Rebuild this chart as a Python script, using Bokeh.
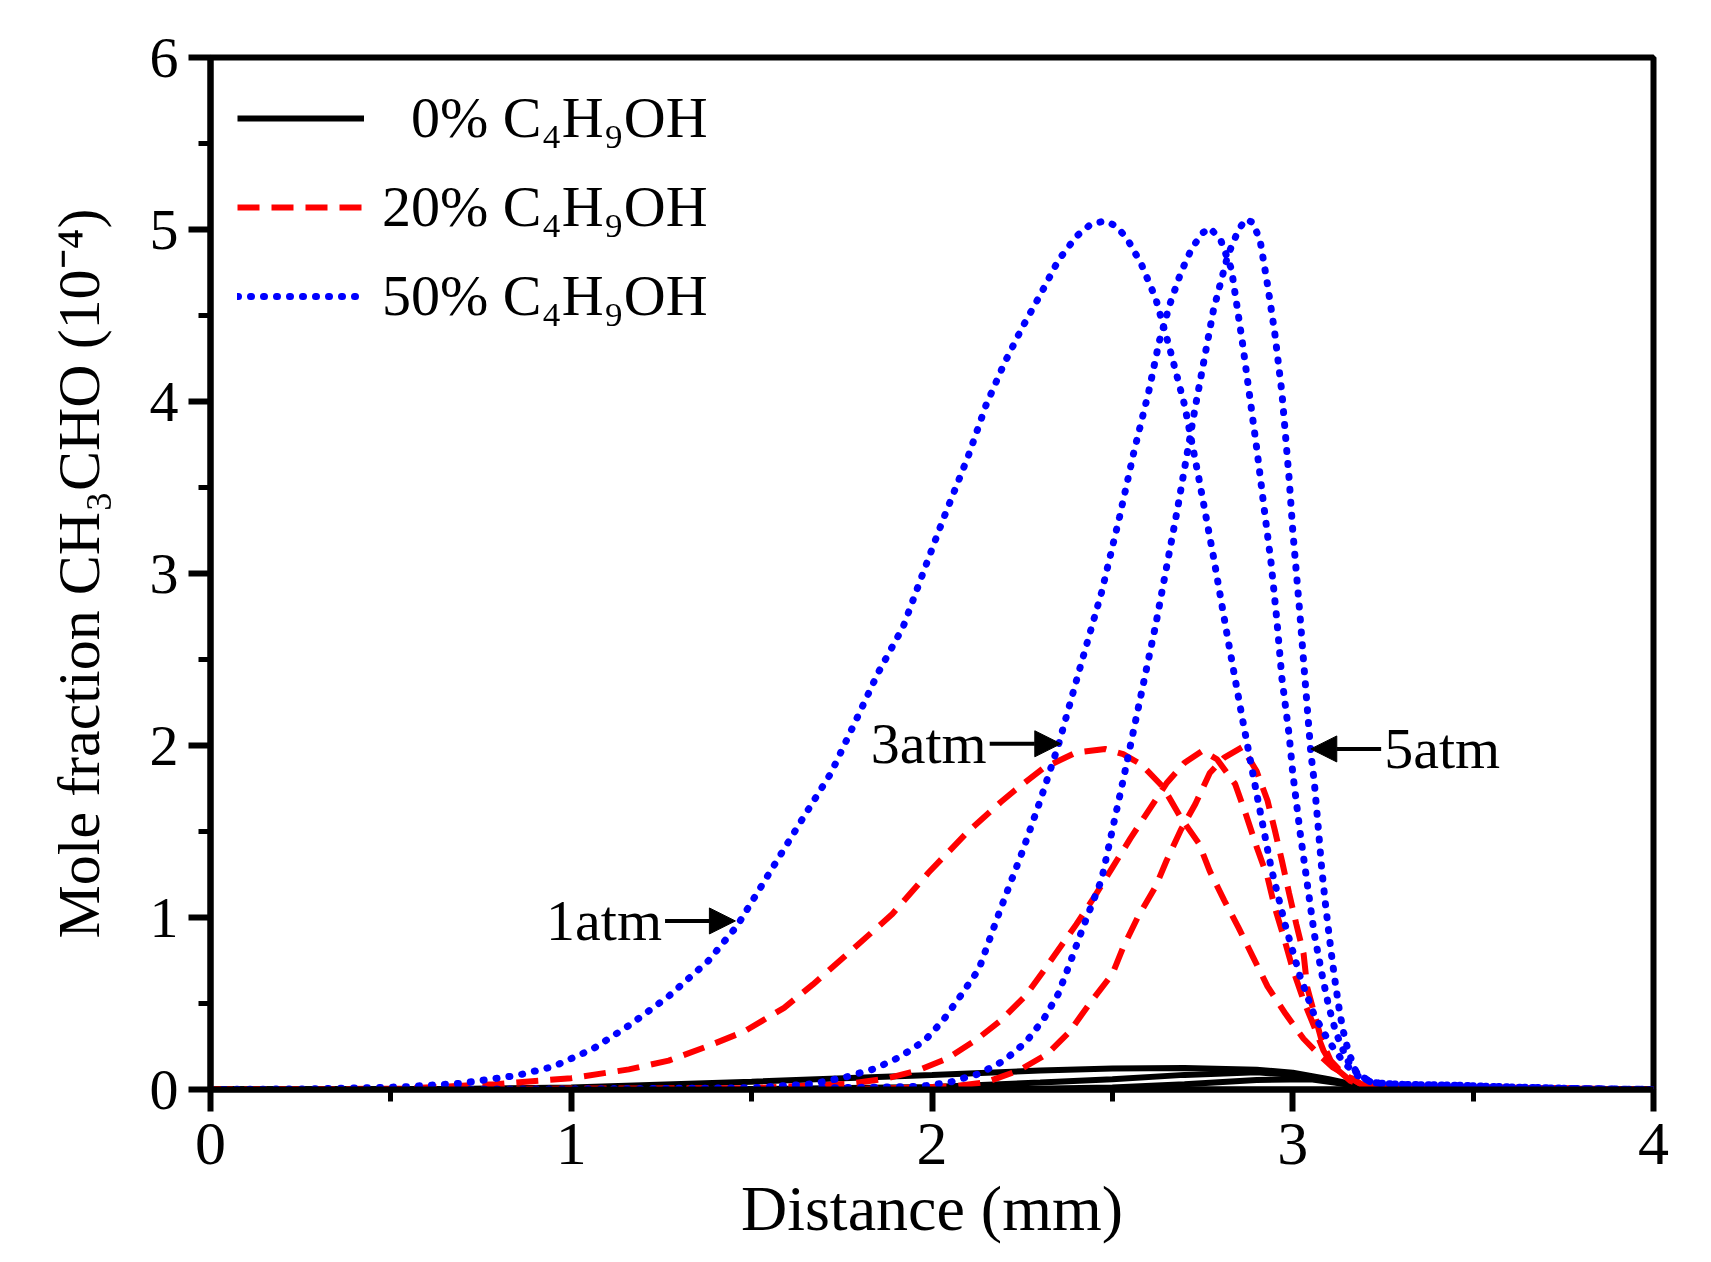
from bokeh.plotting import figure
from bokeh.models import (Range1d, Legend, LegendItem, Arrow, NormalHead, Label,
                          SingleIntervalTicker)
from bokeh.embed import file_html
from bokeh.resources import INLINE

FONT = "Liberation Serif"

# ---------------- data ----------------
# 0% C4H9OH (black, solid)
k1_x = [0, 0.6, 1.0, 1.5, 2.0, 2.3, 2.5, 2.7, 2.9, 3.0, 3.1, 3.2, 3.3, 4.0]
k1_y = [0, 0.002, 0.012, 0.045, 0.085, 0.11, 0.122, 0.125, 0.115, 0.098, 0.06, 0.015, 0.003, 0]
k3_x = [0, 1.5, 2.0, 2.3, 2.5, 2.7, 2.9, 3.0, 3.1, 3.2, 3.3, 4.0]
k3_y = [0, 0.002, 0.015, 0.04, 0.06, 0.085, 0.1, 0.085, 0.05, 0.01, 0.002, 0]
k5_x = [0, 2.2, 2.5, 2.7, 2.9, 3.05, 3.15, 3.22, 4.0]
k5_y = [0, 0.002, 0.012, 0.03, 0.055, 0.06, 0.03, 0.005, 0]

# 20% C4H9OH (red, dashed)
r1_x = [0, 0.53, 0.79, 1.00, 1.16, 1.27, 1.38, 1.48, 1.59, 1.67, 1.78, 1.89, 1.99, 2.10,
        2.19, 2.23, 2.31, 2.40, 2.48, 2.53, 2.58, 2.64, 2.69, 2.74, 2.77, 2.81, 2.85, 2.89,
        2.93, 2.98, 3.03, 3.08, 3.11, 3.15, 3.19, 3.25, 3.40, 3.60, 3.80, 4.0]
r1_y = [0, 0.005, 0.031, 0.066, 0.117, 0.168, 0.253, 0.338, 0.475, 0.611, 0.815, 1.02, 1.26,
        1.50, 1.67, 1.74, 1.87, 1.96, 1.98, 1.95, 1.89, 1.76, 1.58, 1.43, 1.27, 1.10, 0.94,
        0.77, 0.60, 0.44, 0.295, 0.188, 0.13, 0.081, 0.03, 0.02, 0.015, 0.01, 0.005, 0]
r3_x = [0, 1.5, 1.77, 1.87, 1.96, 2.04, 2.12, 2.19, 2.26, 2.31, 2.40, 2.45, 2.50, 2.55, 2.60,
        2.65, 2.70, 2.75, 2.79, 2.84, 2.87, 2.90, 2.93, 2.95, 2.975, 3.00, 3.03, 3.06, 3.085,
        3.11, 3.16, 3.20, 3.40, 3.60, 3.80, 4.0]
r3_y = [0, 0.008, 0.033, 0.062, 0.11, 0.178, 0.285, 0.40, 0.547, 0.692, 0.96, 1.12, 1.29, 1.46,
        1.62, 1.78, 1.90, 1.97, 1.92, 1.777, 1.60, 1.41, 1.234, 1.06, 0.886, 0.70, 0.518, 0.362,
        0.227, 0.14, 0.05, 0.02, 0.015, 0.01, 0.005, 0]
r5_x = [0, 1.8, 2.06, 2.15, 2.24, 2.32, 2.38, 2.44, 2.50, 2.53, 2.57, 2.62, 2.65, 2.69, 2.73,
        2.77, 2.81, 2.86, 2.90, 2.93, 2.95, 2.97, 2.99, 3.01, 3.03, 3.04, 3.06, 3.08, 3.105,
        3.14, 3.20, 3.40, 3.60, 3.80, 4.0]
r5_y = [0, 0.003, 0.018, 0.043, 0.11, 0.207, 0.333, 0.508, 0.672, 0.827, 1.00, 1.18, 1.33,
        1.51, 1.66, 1.84, 1.93, 1.99, 1.85, 1.68, 1.51, 1.33, 1.14, 0.96, 0.79, 0.595, 0.44,
        0.285, 0.169, 0.09, 0.02, 0.015, 0.01, 0.005, 0]

# 50% C4H9OH (blue, dotted)
b1_x = [0, 0.3, 0.53, 0.69, 0.85, 0.95, 1.06, 1.16, 1.27, 1.38, 1.46, 1.57, 1.64, 1.72, 1.79,
        1.85, 1.92, 1.98, 2.03, 2.10, 2.15, 2.20, 2.25, 2.30, 2.35, 2.40, 2.44, 2.48, 2.51,
        2.54, 2.58, 2.62, 2.66, 2.70, 2.74, 2.78, 2.82, 2.86, 2.90, 2.94, 2.98, 3.02, 3.06,
        3.10, 3.14, 3.18, 3.22, 3.30, 3.45, 3.60, 3.80, 4.0]
b1_y = [0, 0.004, 0.015, 0.035, 0.082, 0.133, 0.236, 0.372, 0.542, 0.748, 0.952, 1.33, 1.57,
        1.84, 2.15, 2.42, 2.69, 3.03, 3.31, 3.68, 3.98, 4.22, 4.43, 4.62, 4.82, 4.96, 5.03,
        5.05, 5.02, 4.95, 4.80, 4.60, 4.30, 3.98, 3.55, 3.10, 2.62, 2.16, 1.72, 1.29, 0.95,
        0.66, 0.43, 0.28, 0.16, 0.08, 0.04, 0.03, 0.025, 0.015, 0.005, 0]
b3_x = [0, 1.0, 1.5, 1.67, 1.76, 1.84, 1.91, 1.98, 2.03, 2.08, 2.13, 2.19, 2.25, 2.30, 2.35,
        2.41, 2.47, 2.52, 2.56, 2.60, 2.63, 2.66, 2.69, 2.72, 2.75, 2.77, 2.80, 2.83, 2.86,
        2.88, 2.90, 2.92, 2.94, 2.955, 2.97, 2.99, 3.00, 3.02, 3.04, 3.06, 3.08, 3.10, 3.12,
        3.15, 3.17, 3.20, 3.25, 3.40, 3.60, 4.0]
b3_y = [0, 0.002, 0.01, 0.033, 0.072, 0.12, 0.188, 0.285, 0.40, 0.547, 0.70, 1.05, 1.38, 1.68,
        2.00, 2.45, 2.89, 3.33, 3.71, 4.05, 4.35, 4.57, 4.75, 4.89, 4.98, 5.01, 4.94, 4.77,
        4.35, 4.04, 3.73, 3.39, 3.06, 2.75, 2.39, 2.06, 1.84, 1.50, 1.20, 0.90, 0.68, 0.48,
        0.33, 0.175, 0.11, 0.06, 0.03, 0.02, 0.01, 0]
b5_x = [0, 1.5, 1.97, 2.05, 2.13, 2.20, 2.26, 2.31, 2.35, 2.38, 2.42, 2.47, 2.50, 2.53, 2.56,
        2.62, 2.68, 2.73, 2.78, 2.82, 2.85, 2.87, 2.89, 2.91, 2.93, 2.95, 2.97, 2.99, 3.00,
        3.02, 3.03, 3.05, 3.06, 3.07, 3.08, 3.09, 3.10, 3.11, 3.12, 3.13, 3.14, 3.15, 3.17,
        3.18, 3.22, 3.30, 3.45, 3.60, 3.80, 4.0]
b5_y = [0, 0.002, 0.018, 0.043, 0.091, 0.168, 0.275, 0.411, 0.556, 0.721, 0.95, 1.22, 1.51,
        1.80, 2.10, 2.70, 3.37, 3.97, 4.53, 4.85, 5.00, 5.06, 5.04, 4.93, 4.68, 4.40, 4.05,
        3.55, 3.25, 2.76, 2.49, 1.96, 1.78, 1.54, 1.29, 1.09, 0.91, 0.74, 0.59, 0.45, 0.34,
        0.255, 0.125, 0.09, 0.04, 0.03, 0.025, 0.015, 0.005, 0]

series_labels = ["\u20070% C\u2084H\u2089OH", "20% C\u2084H\u2089OH", "50% C\u2084H\u2089OH"]

# pressure annotations: text, arrow tail x, arrow head x, y
annot_text = ["1atm", "3atm", "5atm"]
annot_tail_x = [1.26, 2.16, 3.245]
annot_head_x = [1.455, 2.357, 3.05]
annot_y = [0.98, 2.01, 1.98]

x_label = "Distance (mm)"
y_label = "Mole fraction CH\u2083CHO (10\u207b\u2074)"

# ---------------- figure ----------------
p = figure(frame_width=1443, frame_height=1032, x_range=Range1d(0, 4), y_range=Range1d(0, 6),
           output_backend="svg", toolbar_location=None,
           min_border_left=210, min_border_right=38, min_border_top=57, min_border_bottom=150)
p.background_fill_color = "white"
p.border_fill_color = "white"
p.xgrid.visible = False
p.ygrid.visible = False
p.outline_line_color = "black"
p.outline_line_width = 6
p.outline_line_alpha = 1.0

p.xaxis.ticker = SingleIntervalTicker(interval=1, num_minor_ticks=2)
p.yaxis.ticker = SingleIntervalTicker(interval=1, num_minor_ticks=2)
p.xaxis.axis_label = x_label
p.yaxis.axis_label = y_label
for ax in (p.xaxis, p.yaxis):
    ax.axis_line_width = 6
    ax.axis_line_color = "black"
    ax.major_tick_line_width = 6
    ax.major_tick_out = 22
    ax.major_tick_in = 0
    ax.minor_tick_line_width = 5
    ax.minor_tick_out = 12
    ax.minor_tick_in = 0
    ax.major_label_text_font = FONT
    ax.major_label_text_color = "black"
    ax.axis_label_text_font = FONT
    ax.axis_label_text_font_style = "normal"
    ax.axis_label_text_color = "black"
p.xaxis.major_label_text_font_size = "62px"
p.yaxis.major_label_text_font_size = "58px"
p.xaxis.axis_label_text_font_size = "64px"
p.yaxis.axis_label_text_font_size = "60px"
p.xaxis.major_label_standoff = 12
p.xaxis.axis_label_standoff = 6
p.yaxis.major_label_standoff = 10
p.yaxis.axis_label_standoff = 35

# curves
kw_k = dict(line_color="black", line_width=6)
kw_r = dict(line_color="#FF0000", line_width=6, line_dash="22 12")
kw_b = dict(line_color="#0000FF", line_width=7, line_dash="1 12", line_cap="round")

k_r = p.line(k1_x, k1_y, **kw_k)
p.line(k3_x, k3_y, **kw_k)
p.line(k5_x, k5_y, **kw_k)
r_r = p.line(r1_x, r1_y, **kw_r)
p.line(r3_x, r3_y, **kw_r)
p.line(r5_x, r5_y, **kw_r)
b_r = p.line(b1_x, b1_y, **kw_b)
p.line(b3_x, b3_y, **kw_b)
p.line(b5_x, b5_y, **kw_b)

legend = Legend(items=[LegendItem(label=series_labels[0], renderers=[k_r]),
                       LegendItem(label=series_labels[1], renderers=[r_r]),
                       LegendItem(label=series_labels[2], renderers=[b_r])],
                location="top_left")
legend.label_text_font = FONT
legend.label_text_font_size = "58px"
legend.label_text_color = "black"
legend.glyph_width = 127
legend.glyph_height = 60
legend.label_height = 60
legend.label_standoff = 18
legend.spacing = 22
legend.padding = 27
legend.margin = 0
legend.border_line_alpha = 0
legend.background_fill_alpha = 0
p.add_layout(legend)

for t, xt, xh, yy in zip(annot_text, annot_tail_x, annot_head_x, annot_y):
    p.add_layout(Arrow(end=NormalHead(size=26, fill_color="black", line_color="black"),
                       x_start=xt, y_start=yy, x_end=xh, y_end=yy,
                       line_color="black", line_width=4))
    left = xh > xt
    p.add_layout(Label(x=xt, y=yy, text=t, text_font=FONT, text_font_size="58px",
                       text_color="black", text_baseline="middle",
                       text_align="right" if left else "left",
                       x_offset=-3 if left else 3))

open("out.html", "w").write(file_html(p, INLINE))
